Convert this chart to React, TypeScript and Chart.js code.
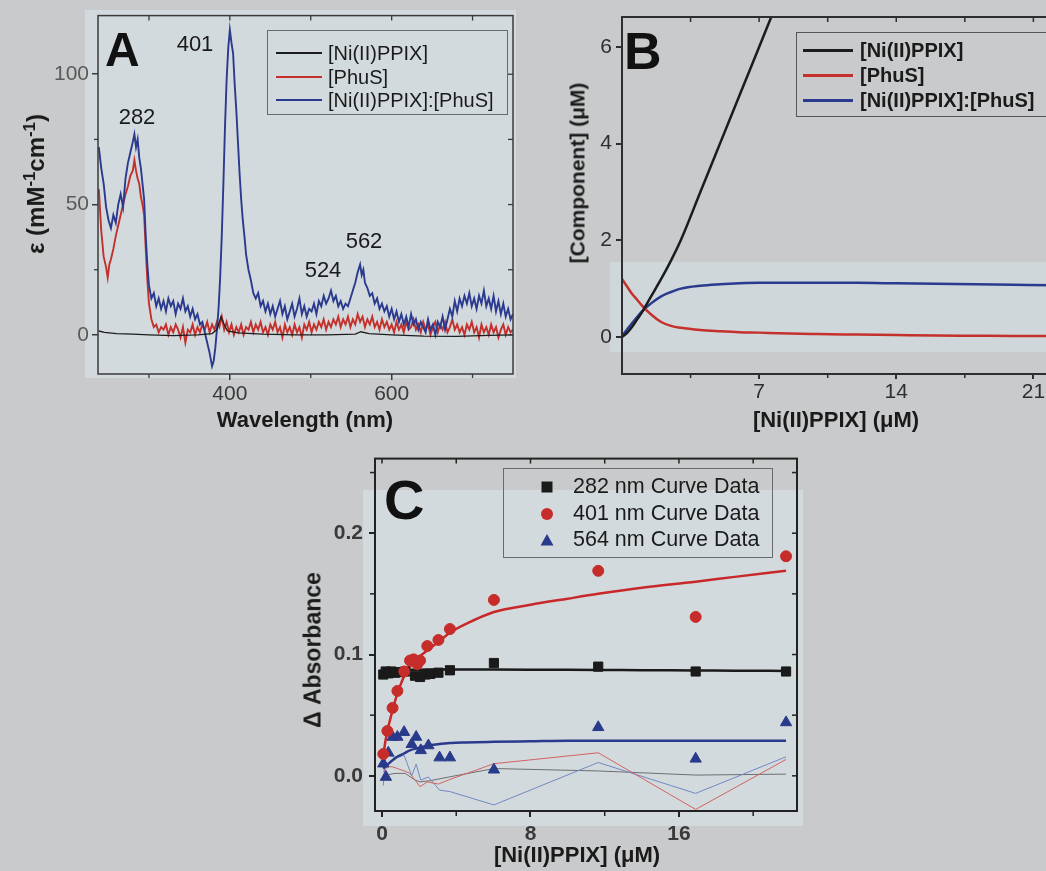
import React, { useEffect, useRef } from 'react';
import { Chart, registerables } from 'chart.js';
Chart.register(...registerables);

const FONT = '"Liberation Sans", Arial, "DejaVu Sans", sans-serif';
const PAGE = '#c9cacb';
const TINT = '#d3dadd';

// ---------- Panel A : spectra ----------
const A_X_TICKS = [400, 600];
const A_X_MINOR = [300, 500, 700];
const A_Y_TICKS = [0, 50, 100];
const A_Y_MINOR = [25, 75];
const A_TOP = [300, 400, 500, 600, 700];
const A_RIGHT = [0, 25, 50, 75, 100];
const A_LEGEND = ['[Ni(II)PPIX]', '[PhuS]', '[Ni(II)PPIX]:[PhuS]'];
const A_PEAKS: [string, number, number][] = [['401', 195, 44], ['282', 137, 117], ['524', 323, 270], ['562', 364, 241]];

const A_BLACK: [number, number][] = [[238,1.5],[245,1],[260,0.5],[280,0.3],[300,0],[330,-0.3],[360,0],[378,0.5],[384,2],[389,7],[393,4],[397,1.5],[410,0.8],[440,0.3],[480,0],[520,0],[555,0.3],[562,1.2],[572,0.5],[600,0],[640,-0.5],[680,-0.6],[720,-0.2],[750,0]];

const A_BLUE: [number, number][] = [[238,72],[241,64],[244,58],[247,49],[250,44],[253,41],[256,46],[259,43],[262,50],[265,54],[268,49],[271,60],[274,66],[277,70],[280,74],[282,77],[284,72],[286,75],[288,68],[290,64],[292,58],[294,52],[296,38],[298,27],[300,19],[303,14],[306,16],[309,11],[312,14],[315,10],[318,13],[321,9],[324,14],[327,11],[330,13],[333,8],[336,12],[339,10],[342,14],[345,9],[348,11],[351,7],[354,10],[357,6],[360,8],[363,4],[366,5],[369,1],[372,-3],[375,-7],[378,-12],[380,-10],[382,-5],[384,2],[386,10],[388,22],[390,38],[392,58],[394,80],[396,98],[398,110],[400,117],[402,112],[404,108],[406,96],[408,86],[410,74],[412,62],[414,52],[416,44],[418,38],[420,31],[423,25],[426,21],[429,16],[432,14],[435,16],[438,11],[441,13],[444,9],[447,12],[450,8],[453,11],[456,7],[459,10],[462,13],[465,8],[468,11],[471,6],[474,9],[477,12],[480,7],[483,10],[486,14],[489,8],[492,11],[495,7],[498,10],[501,9],[504,12],[507,8],[510,13],[513,11],[516,15],[519,12],[522,14],[525,17],[528,13],[531,15],[534,11],[537,13],[540,10],[543,12],[546,11],[549,14],[552,17],[555,20],[558,24],[561,27],[563,23],[565,25],[567,20],[570,18],[573,15],[576,16],[579,12],[582,14],[585,10],[588,12],[591,9],[594,11],[597,7],[600,10],[603,6],[606,9],[609,5],[612,8],[615,4],[618,7],[621,3],[624,8],[627,4],[630,6],[633,2],[636,5],[639,3],[642,1],[645,6],[648,2],[651,4],[654,0],[657,5],[660,3],[663,7],[666,2],[669,6],[672,10],[675,7],[678,13],[681,9],[684,14],[687,11],[690,15],[693,12],[696,16],[699,11],[702,14],[705,10],[708,15],[711,12],[714,17],[717,11],[720,14],[723,10],[726,15],[729,9],[732,13],[735,8],[738,12],[741,7],[744,10],[747,6],[750,8]];

const A_RED: [number, number][] = [[238,56],[241,40],[244,30],[247,26],[249,22],[251,27],[253,29],[256,33],[259,38],[262,42],[265,46],[268,50],[271,54],[274,57],[277,61],[280,63],[282,67],[284,63],[286,60],[288,58],[290,53],[292,50],[294,46],[296,33],[298,21],[300,12],[303,6],[306,3],[309,4],[312,1],[315,3],[318,2],[321,4],[324,0],[327,3],[330,1],[333,4],[336,2],[339,-1],[342,3],[345,-3],[348,2],[351,1],[354,4],[357,0],[360,3],[363,1],[366,4],[369,2],[372,5],[375,1],[378,4],[381,2],[384,5],[387,3],[390,7],[393,2],[396,5],[399,1],[402,4],[405,0],[408,3],[411,1],[414,4],[417,0],[420,3],[423,2],[426,5],[429,1],[432,4],[435,2],[438,5],[441,1],[444,3],[447,0],[450,4],[453,2],[456,5],[459,1],[462,3],[465,-1],[468,4],[471,1],[474,3],[477,0],[480,4],[483,1],[486,3],[489,-1],[492,4],[495,2],[498,5],[501,1],[504,4],[507,2],[510,5],[513,3],[516,6],[519,2],[522,5],[525,3],[528,6],[531,4],[534,7],[537,3],[540,6],[543,4],[546,7],[549,3],[552,6],[555,4],[558,8],[561,5],[564,7],[567,3],[570,6],[573,4],[576,7],[579,3],[582,5],[585,2],[588,6],[591,3],[594,5],[597,2],[600,4],[603,1],[606,5],[609,2],[612,4],[615,1],[618,5],[621,2],[624,3],[627,6],[630,2],[633,4],[636,1],[639,5],[642,2],[645,4],[648,0],[651,3],[654,5],[657,1],[660,4],[663,2],[666,5],[669,1],[672,3],[675,6],[678,2],[681,4],[684,1],[687,3],[690,0],[693,4],[696,2],[699,5],[702,1],[705,3],[708,-1],[711,4],[714,1],[717,3],[720,0],[723,4],[726,1],[729,3],[732,-1],[735,2],[738,4],[741,0],[744,3],[747,1],[750,2]];

// ---------- Panel B : speciation ----------
const B_X = [0, 0.25, 0.5, 0.75, 1, 1.5, 2, 2.5, 3, 4, 5, 6, 7, 8, 10, 12, 14, 16, 18, 20, 22, 24.4];
const B_FREE_NI = [0, 0.08, 0.2, 0.35, 0.5, 0.85, 1.2, 1.58, 2.0, 3.0, 4.0, 5.0, 6.0, 7.0, 9.0, 11, 13, 15, 17, 19, 21, 23.4];
const B_PHUS = [1.2, 1.05, 0.9, 0.78, 0.66, 0.46, 0.31, 0.23, 0.19, 0.145, 0.12, 0.1, 0.09, 0.075, 0.06, 0.05, 0.04, 0.03, 0.025, 0.02, 0.02, 0.015];
const B_COMPLEX = [0.02, 0.15, 0.28, 0.4, 0.52, 0.7, 0.84, 0.93, 1.0, 1.06, 1.09, 1.11, 1.12, 1.12, 1.12, 1.12, 1.11, 1.1, 1.09, 1.08, 1.07, 1.06];
const B_X_TICKS = [7, 14, 21];
const B_X_MINOR = [3.5, 10.5, 17.5];
const B_Y_TICKS = [0, 2, 4, 6];
const B_TOP = [3.5, 7, 10.5, 14, 17.5, 21];

// ---------- Panel C : titration ----------
const C_RED_X = [0.07, 0.29, 0.57, 0.83, 1.2, 1.51, 1.7, 1.9, 2.05, 2.44, 3.04, 3.66, 6.03, 11.65, 16.9, 21.77];
const C_RED_Y = [0.018, 0.037, 0.056, 0.070, 0.086, 0.095, 0.096, 0.092, 0.095, 0.107, 0.112, 0.121, 0.145, 0.169, 0.131, 0.181];
const C_BLK_X = [0.07, 0.2, 0.35, 0.5, 0.7, 0.9, 1.25, 1.78, 2.05, 2.33, 2.6, 3.04, 3.66, 6.03, 11.65, 16.9, 21.77];
const C_BLK_Y = [0.0835, 0.086, 0.0845, 0.086, 0.085, 0.0855, 0.086, 0.0825, 0.0815, 0.0835, 0.084, 0.085, 0.087, 0.093, 0.090, 0.086, 0.086];
const C_BLU_X = [0.07, 0.21, 0.34, 0.57, 0.83, 1.19, 1.6, 1.84, 2.09, 2.5, 3.1, 3.66, 6.03, 11.65, 16.9, 21.77];
const C_BLU_Y = [0.010, -0.001, 0.019, 0.032, 0.032, 0.036, 0.026, 0.032, 0.021, 0.025, 0.015, 0.015, 0.005, 0.040, 0.014, 0.044];
const C_FIT_X = [0.07, 0.2, 0.35, 0.5, 0.75, 1, 1.25, 1.5, 2, 2.5, 3, 3.66, 4.5, 6.03, 8, 10, 11.65, 14, 16.9, 19, 21.77];
const C_FIT_RED = [0.017, 0.030, 0.041, 0.050, 0.064, 0.075, 0.084, 0.090, 0.098, 0.104, 0.110, 0.118, 0.125, 0.135, 0.141, 0.146, 0.150, 0.155, 0.160, 0.164, 0.169];
const C_FIT_BLK = [0.083, 0.085, 0.086, 0.0865, 0.087, 0.087, 0.0872, 0.0874, 0.0875, 0.0876, 0.0877, 0.0877, 0.0877, 0.0876, 0.0875, 0.0874, 0.0873, 0.0871, 0.0869, 0.0867, 0.0865];
const C_FIT_BLU = [0.006, 0.008, 0.010, 0.012, 0.015, 0.017, 0.019, 0.021, 0.023, 0.025, 0.026, 0.027, 0.0275, 0.028, 0.0285, 0.029, 0.029, 0.029, 0.029, 0.029, 0.029];
const C_RES_RED_X = [0.07, 0.29, 0.57, 0.83, 1.2, 1.51, 2.05, 2.44, 3.04, 3.66, 6.03, 11.65, 16.9, 21.77];
const C_RES_RED_Y = [0.0033, 0.0075, 0.0074, 0.006, 0.004, 0.002, -0.009, -0.005, -0.0068, -0.003, 0.010, 0.019, -0.0277, 0.0135];
const C_RES_BLU_X = [0.07, 0.21, 0.57, 0.83, 1.19, 1.6, 1.84, 2.09, 2.5, 3.1, 3.66, 6.03, 11.65, 16.9, 21.77];
const C_RES_BLU_Y = [-0.008, 0.018, 0.016, 0.015, 0.017, 0.0, 0.0096, -0.0035, -0.001, -0.0118, -0.013, -0.024, 0.011, -0.0145, 0.0157];
const C_RES_BLK_X = [0.07, 0.35, 0.7, 1.25, 1.78, 2.05, 2.6, 3.66, 6.03, 11.65, 16.9, 21.77];
const C_RES_BLK_Y = [0.006, 0.001, 0.002, 0.002, -0.0035, -0.005, -0.004, -0.0008, 0.006, 0.004, 0.0006, 0.0014];
const C_X_TICKS = [0, 8, 16];
const C_X_MINOR = [4, 12, 20];
const C_Y_TICKS = [0, 0.1, 0.2];
const C_Y_MINOR = [0.05, 0.15, 0.25];
const C_TOP = [0, 4, 8, 12, 16, 20];
const C_RIGHT = [0, 0.05, 0.1, 0.15, 0.2, 0.25];
const C_LEGEND = ['282 nm Curve Data', '401 nm Curve Data', '564 nm Curve Data'];

const RED = '#c4302b';
const BLUE = '#2a3a8f';
const BLACK = '#1c1c1c';

const pts = (xs: number[], ys: number[]) => xs.map((x, i) => ({ x, y: ys[i] }));
const tup = (a: [number, number][]) => a.map(([x, y]) => ({ x, y }));

function makeFrame(cfg: { color: string; width: number; tw: number; minor: number; inLen: number; xMinor: number[]; yMinor: number[]; top: number[]; right: number[] }) {
  return {
    id: 'frame',
    afterDatasetsDraw(chart: any) {
      const { ctx, chartArea: a, scales } = chart;
      const sx = scales.x, sy = scales.y;
      ctx.save();
      ctx.strokeStyle = cfg.color;
      const L = (x1: number, y1: number, x2: number, y2: number) => { ctx.beginPath(); ctx.moveTo(x1, y1); ctx.lineTo(x2, y2); ctx.stroke(); };
      ctx.lineWidth = cfg.tw;
      cfg.xMinor.forEach(v => { const p = sx.getPixelForValue(v); L(p, a.bottom, p, a.bottom + cfg.minor); });
      cfg.yMinor.forEach(v => { const p = sy.getPixelForValue(v); if (p > a.top + 1 && p < a.bottom - 1) L(a.left - cfg.minor, p, a.left, p); });
      cfg.top.forEach(v => { const p = sx.getPixelForValue(v); L(p, a.top, p, a.top + cfg.inLen); });
      cfg.right.forEach(v => { const p = sy.getPixelForValue(v); if (p > a.top + 1 && p < a.bottom - 1) L(a.right - cfg.inLen, p, a.right, p); });
      ctx.lineWidth = cfg.width;
      ctx.strokeRect(a.left, a.top, a.right - a.left, a.bottom - a.top);
      ctx.restore();
    },
  };
}

function axis(o: { min: number; max: number; ticks: number[]; pos: 'left' | 'bottom'; size: number; tl: number; pad: number; fs: number; weight: string; color: string; line: string; lw: number; fmt?: (v: number) => string }) {
  const ticks: any = { autoSkip: false, maxRotation: 0, minRotation: 0, padding: o.pad, color: o.color, font: { family: FONT, size: o.fs, weight: o.weight } };
  if (o.fmt) { const f = o.fmt; ticks.callback = (v: any) => f(Number(v)); }
  return {
    type: 'linear', position: o.pos, min: o.min, max: o.max,
    afterBuildTicks: (s: any) => { s.ticks = o.ticks.map(v => ({ value: v })); },
    afterFit: (s: any) => { if (o.pos === 'left') s.width = o.size; else s.height = o.size; },
    grid: { display: true, drawOnChartArea: false, drawTicks: true, tickLength: o.tl, color: o.line, lineWidth: o.lw },
    border: { display: false },
    ticks,
  };
}

const baseOpts = (padding: any) => ({
  animation: false, responsive: false, maintainAspectRatio: false, events: [],
  layout: { padding },
  plugins: { legend: { display: false }, tooltip: { enabled: false } },
});

function cfgA(): any {
  return {
    type: 'line',
    data: { datasets: [
      { data: tup(A_BLACK), borderColor: BLACK, borderWidth: 1.3, pointRadius: 0, tension: 0, order: 1 },
      { data: tup(A_BLUE), borderColor: BLUE, borderWidth: 1.9, pointRadius: 0, tension: 0, order: 2 },
      { data: tup(A_RED), borderColor: RED, borderWidth: 1.9, pointRadius: 0, tension: 0, order: 3 },
    ] },
    options: { ...baseOpts({ top: 14, right: 27, left: 0, bottom: 0 }),
      scales: {
        x: axis({ min: 237, max: 750, ticks: A_X_TICKS, pos: 'bottom', size: 66, tl: 6, pad: 2, fs: 21, weight: 'normal', color: '#3a3a3a', line: '#3a3a3a', lw: 1.5 }),
        y: axis({ min: -15, max: 122.5, ticks: A_Y_TICKS, pos: 'left', size: 98, tl: 6, pad: 3, fs: 21, weight: 'normal', color: '#5a5a5a', line: '#3a3a3a', lw: 1.5 }),
      } },
    plugins: [makeFrame({ color: '#3a3a3a', width: 1.5, tw: 1.3, minor: 4, inLen: 5, xMinor: A_X_MINOR, yMinor: A_Y_MINOR, top: A_TOP, right: A_RIGHT })],
  };
}

function cfgB(): any {
  return {
    type: 'line',
    data: { datasets: [
      { data: pts(B_X, B_FREE_NI), borderColor: BLACK, borderWidth: 2.5, pointRadius: 0, cubicInterpolationMode: 'monotone' },
      { data: pts(B_X, B_PHUS), borderColor: RED, borderWidth: 2.5, pointRadius: 0, cubicInterpolationMode: 'monotone' },
      { data: pts(B_X, B_COMPLEX), borderColor: BLUE, borderWidth: 2.5, pointRadius: 0, cubicInterpolationMode: 'monotone' },
    ] },
    options: { ...baseOpts({ top: 17, right: 40, left: 0, bottom: 0 }),
      scales: {
        x: axis({ min: 0, max: 24.4, ticks: B_X_TICKS, pos: 'bottom', size: 66, tl: 5, pad: 1, fs: 21, weight: 'normal', color: '#2e2e2e', line: '#2e2e2e', lw: 2 }),
        y: axis({ min: -0.766, max: 6.62, ticks: B_Y_TICKS, pos: 'left', size: 82, tl: 6, pad: 4, fs: 21, weight: 'normal', color: '#2e2e2e', line: '#2e2e2e', lw: 2 }),
      } },
    plugins: [makeFrame({ color: '#2e2e2e', width: 2, tw: 1.5, minor: 4, inLen: 5, xMinor: B_X_MINOR, yMinor: [], top: B_TOP, right: [] })],
  };
}

function cfgC(): any {
  const thin = (xs: number[], ys: number[], c: string, o: number) => ({ data: pts(xs, ys), borderColor: c, borderWidth: 1, pointRadius: 0, tension: 0, order: o });
  const fit = (ys: number[], c: string, o: number) => ({ data: pts(C_FIT_X, ys), borderColor: c, borderWidth: 2.5, pointRadius: 0, cubicInterpolationMode: 'monotone', order: o });
  const sc = (xs: number[], ys: number[], c: string, style: string, r: number, o: number) => ({ data: pts(xs, ys), showLine: false, pointStyle: style, pointRadius: r, pointBackgroundColor: c, pointBorderColor: c, pointBorderWidth: 1, borderColor: c, order: o });
  return {
    type: 'line',
    data: { datasets: [
      sc(C_BLK_X, C_BLK_Y, '#1a1a1a', 'rect', 6.5, 1),
      sc(C_RED_X, C_RED_Y, '#c62d2a', 'circle', 5.5, 0),
      sc(C_BLU_X, C_BLU_Y, '#283a8a', 'triangle', 6.5, 2),
      fit(C_FIT_RED, '#c8282a', 3),
      fit(C_FIT_BLK, '#1a1a1a', 4),
      fit(C_FIT_BLU, '#2c3a8e', 5),
      thin(C_RES_RED_X, C_RES_RED_Y, '#d26262', 6),
      thin(C_RES_BLU_X, C_RES_BLU_Y, '#7288c4', 7),
      thin(C_RES_BLK_X, C_RES_BLK_Y, '#6e6e6e', 8),
    ] },
    options: { ...baseOpts({ top: 18, right: 13, left: 0, bottom: 0 }),
      scales: {
        x: axis({ min: -0.377, max: 22.36, ticks: C_X_TICKS, pos: 'bottom', size: 60, tl: 6, pad: 5, fs: 21, weight: 'bold', color: '#3a3a3a', line: '#222', lw: 2 }),
        y: axis({ min: -0.029, max: 0.2615, ticks: C_Y_TICKS, pos: 'left', size: 85, tl: 6, pad: 6, fs: 21, weight: 'bold', color: '#3a3a3a', line: '#222', lw: 2, fmt: v => v.toFixed(1) }),
      } },
    plugins: [makeFrame({ color: '#222', width: 2, tw: 1.5, minor: 5, inLen: 5, xMinor: C_X_MINOR, yMinor: C_Y_MINOR, top: C_TOP, right: C_RIGHT })],
  };
}

function T(p: { x: number; y: number; s: number; w?: string; r?: boolean; c?: string; left?: boolean; children: any }) {
  return (
    <div style={{ position: 'absolute', left: p.x, top: p.y, transform: `translate(${p.left ? '0' : '-50%'},-50%)${p.r ? ' rotate(-90deg)' : ''}`, fontFamily: FONT, fontSize: p.s, fontWeight: (p.w || 'normal') as any, color: p.c || '#1a1a1a', whiteSpace: 'nowrap', lineHeight: 1 }}>{p.children}</div>
  );
}

const sup = { fontSize: '0.7em', position: 'relative' as const, top: '-0.55em' };

function Marker({ kind, color }: { kind: string; color: string }) {
  return (
    <svg width={14} height={14} viewBox="0 0 14 14" style={{ display: 'block' }}>
      {kind === 'rect' && <rect x={1.5} y={1.5} width={11} height={11} fill={color} />}
      {kind === 'circle' && <circle cx={7} cy={7} r={6} fill={color} />}
      {kind === 'triangle' && <polygon points="7,1 13.5,12.5 0.5,12.5" fill={color} />}
    </svg>
  );
}

export default function App() {
  const ra = useRef<HTMLCanvasElement>(null);
  const rb = useRef<HTMLCanvasElement>(null);
  const rc = useRef<HTMLCanvasElement>(null);
  useEffect(() => {
    const charts = [new Chart(ra.current!, cfgA()), new Chart(rb.current!, cfgB()), new Chart(rc.current!, cfgC())];
    return () => charts.forEach(c => c.destroy());
  }, []);
  const abs = (l: number, t: number, w: number, h: number, extra: any = {}) => ({ position: 'absolute' as const, left: l, top: t, width: w, height: h, ...extra });
  const legA = [BLACK, RED, BLUE];
  const legY = [53, 77, 100];
  const legBY = [50, 75, 100];
  const legCY = [487, 514, 540];
  const legCM: [string, string][] = [['rect', '#1a1a1a'], ['circle', '#c62d2a'], ['triangle', '#283a8a']];
  return (
    <div style={{ position: 'fixed', left: 0, top: 0, width: 1046, height: 871, overflow: 'hidden', background: PAGE }}>
      <div style={abs(85, 10, 431, 368, { background: TINT })} />
      <div style={abs(610, 262, 436, 90, { background: '#d0d7da' })} />
      <div style={abs(363, 490, 440, 336, { background: TINT })} />

      <canvas ref={ra} width={540} height={440} style={abs(0, 0, 540, 440)} />
      <canvas ref={rb} width={600} height={440} style={abs(540, 0, 600, 440)} />
      <canvas ref={rc} width={520} height={431} style={abs(290, 440, 520, 431)} />

      {/* Panel A texts */}
      <div style={{ position: 'absolute', left: 105, top: 26, fontFamily: FONT, fontSize: 48, fontWeight: 'bold', lineHeight: 1, color: '#111' }}>A</div>
      {A_PEAKS.map(([t, x, y]) => <T key={t} x={x} y={y} s={22}>{t}</T>)}
      <T x={36} y={184} s={24} w="bold" r>ε (mM<span style={sup}>-1</span>cm<span style={sup}>-1</span>)</T>
      <T x={305} y={420} s={22} w="bold">Wavelength (nm)</T>
      <div style={abs(267, 30, 241, 85, { border: '1px solid #6a6a6a', boxSizing: 'border-box' })} />
      {A_LEGEND.map((t, i) => (
        <React.Fragment key={t}>
          <div style={abs(276, legY[i] - 1, 46, 2, { background: legA[i] })} />
          <T x={328} y={legY[i]} s={20} left>{t}</T>
        </React.Fragment>
      ))}

      {/* Panel B texts */}
      <div style={{ position: 'absolute', left: 624, top: 25, fontFamily: FONT, fontSize: 52, fontWeight: 'bold', lineHeight: 1, color: '#111' }}>B</div>
      <T x={577} y={173} s={21} w="bold" r>[Component] (μM)</T>
      <T x={836} y={420} s={22} w="bold">[Ni(II)PPIX] (μM)</T>
      <div style={abs(796, 32, 252, 85, { border: '1px solid #555', boxSizing: 'border-box' })} />
      {A_LEGEND.map((t, i) => (
        <React.Fragment key={'b' + t}>
          <div style={abs(803, legBY[i] - 1.5, 50, 3, { background: legA[i] })} />
          <T x={860} y={legBY[i]} s={20} w="bold" left>{t}</T>
        </React.Fragment>
      ))}

      {/* Panel C texts */}
      <div style={{ position: 'absolute', left: 384, top: 472, fontFamily: FONT, fontSize: 56, fontWeight: 'bold', lineHeight: 1, color: '#111' }}>C</div>
      <T x={313} y={650} s={23} w="bold" r>Δ Absorbance</T>
      <T x={577} y={855} s={22} w="bold">[Ni(II)PPIX] (μM)</T>
      <div style={abs(503, 468, 270, 90, { border: '1px solid #6a6a6a', boxSizing: 'border-box' })} />
      {C_LEGEND.map((t, i) => (
        <React.Fragment key={t}>
          <div style={abs(540, legCY[i] - 7, 14, 14)}><Marker kind={legCM[i][0]} color={legCM[i][1]} /></div>
          <T x={573} y={legCY[i]} s={21.5} left>{t}</T>
        </React.Fragment>
      ))}
    </div>
  );
}
